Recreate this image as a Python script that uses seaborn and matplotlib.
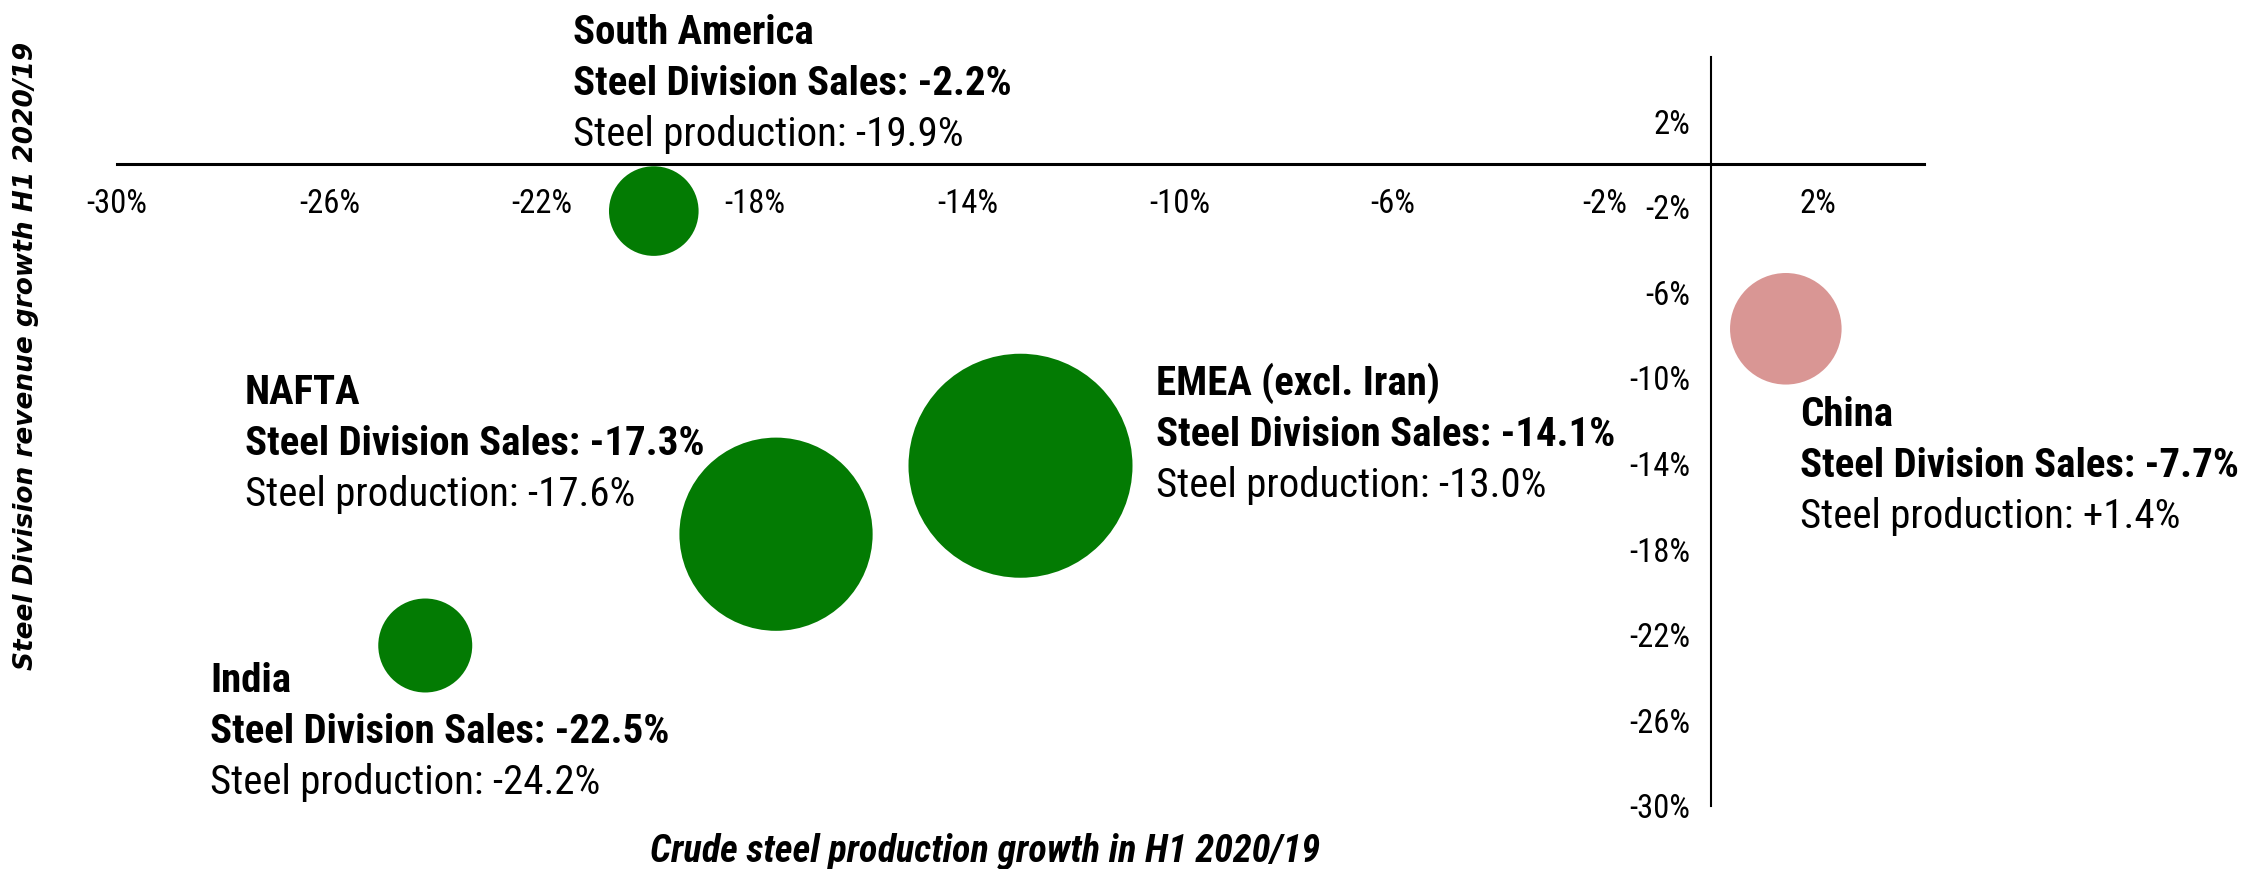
import matplotlib
matplotlib.use("Agg")
import matplotlib.pyplot as plt
import seaborn as sns
import pandas as pd

# ---------------- data ----------------
regions = ["South America", "NAFTA", "India", "EMEA (excl. Iran)", "China"]
production_growth = [-19.9, -17.6, -24.2, -13.0, 1.4]   # x, %
sales_growth = [-2.2, -17.3, -22.5, -14.1, -7.7]        # y, %
bubble_volume = [2.0, 9.3, 2.2, 12.5, 3.1]              # relative bubble area
production_sign = ["decline", "decline", "decline", "decline", "growth"]
tick_values = list(range(-30, 3, 4))
x_title = "Crude steel production growth in H1 2020/19"
y_title = "Steel Division revenue growth H1 2020/19"

df = pd.DataFrame({
    "region": regions,
    "production": production_growth,
    "sales": sales_growth,
    "volume": bubble_volume,
    "sign": production_sign,
})

# ---------------- style ----------------
sns.set_style("white")
NARROW = ["Roboto Condensed", "DejaVu Sans"]
plt.rcParams["font.family"] = NARROW
plt.rcParams["text.color"] = "black"
plt.rcParams["xtick.color"] = "black"
plt.rcParams["ytick.color"] = "black"

fig = plt.figure(figsize=(22.49, 8.69), dpi=100)
ax = fig.add_axes([117 / 2249, 1 - 806 / 869, (1924 - 117) / 2249, (806 - 57) / 869])

sns.scatterplot(
    data=df, x="production", y="sales", hue="sign", size="volume",
    palette={"decline": "#037B03", "growth": "#D99694"},
    sizes=(0, 26015), size_norm=(0, 12.5),
    linewidth=0, alpha=1, legend=False, ax=ax, zorder=3,
)

ax.set_xlim(-30, 4)
ax.set_ylim(-30, 5)
ax.set_xticks(tick_values)
ax.set_yticks(tick_values)
ax.set_xticklabels([f"{v}%" for v in tick_values])
ax.set_yticklabels([f"{v}%" for v in tick_values])
ax.tick_params(axis="both", length=0, labelsize=20, colors="black")
ax.tick_params(axis="x", pad=17)
ax.tick_params(axis="y", pad=15)
ax.set_xlabel("")
ax.set_ylabel("")

for s in ["top", "right"]:
    ax.spines[s].set_visible(False)
ax.spines["left"].set_position(("data", 0))
ax.spines["bottom"].set_position(("data", 0))
ax.spines["bottom"].set_linewidth(2.2)
ax.spines["left"].set_linewidth(1.5)
ax.spines["bottom"].set_color("black")
ax.spines["left"].set_color("black")
ax.patch.set_alpha(0)

# ---------------- annotations ----------------
label_offsets = {  # offset (points) of first baseline from bubble centre
    "South America": (-58.3, 120.2),
    "NAFTA": (-382.3, 93.6),
    "India": (-154.8, -33.8),
    "EMEA (excl. Iran)": (97.2, 51.1),
    "China": (10.1, -69.8),
}
line_gap = 36.7
ann_texts = []
ref_text = None
for reg, x, y in zip(regions, production_growth, sales_growth):
    dx, dy = label_offsets[reg]
    lines = [
        (reg, "bold"),
        (f"Steel Division Sales: {y:.1f}%", "bold"),
        (f"Steel production: {x:+.1f}%", "normal"),
    ]
    for i, (txt, wt) in enumerate(lines):
        t = ax.annotate(txt, xy=(x, y), xytext=(dx, dy - i * line_gap),
                        textcoords="offset points", ha="left", va="baseline",
                        fontsize=28, fontweight=wt, color="black", zorder=4)
        ann_texts.append(t)
        if reg == "South America" and i == 1:
            ref_text = t

xt = fig.text(985 / 2249, 1 - 851 / 869, x_title, ha="center", va="center",
              fontsize=22, fontweight="bold", fontstyle="italic", color="black")
yt = fig.text(26 / 2249, 1 - 356 / 869, y_title, ha="center", va="center",
              rotation=90, fontsize=19, fontweight="bold", fontstyle="italic",
              family=["DejaVu Sans"], color="black")

# fit font sizes to the reference text widths (pixels)
fig.canvas.draw()
r = fig.canvas.get_renderer()
k = 440 / ref_text.get_window_extent(r).width
for t in ann_texts:
    t.set_fontsize(28 * k)
xt.set_fontsize(22 * 671 / xt.get_window_extent(r).width)
yt.set_fontsize(19 * 627 / yt.get_window_extent(r).height)
tl = ax.get_xticklabels()[0]
kt = 61 / tl.get_window_extent(r).width
ax.tick_params(axis="both", labelsize=20 * kt)

fig.savefig("out.png", dpi=100, facecolor="white")
